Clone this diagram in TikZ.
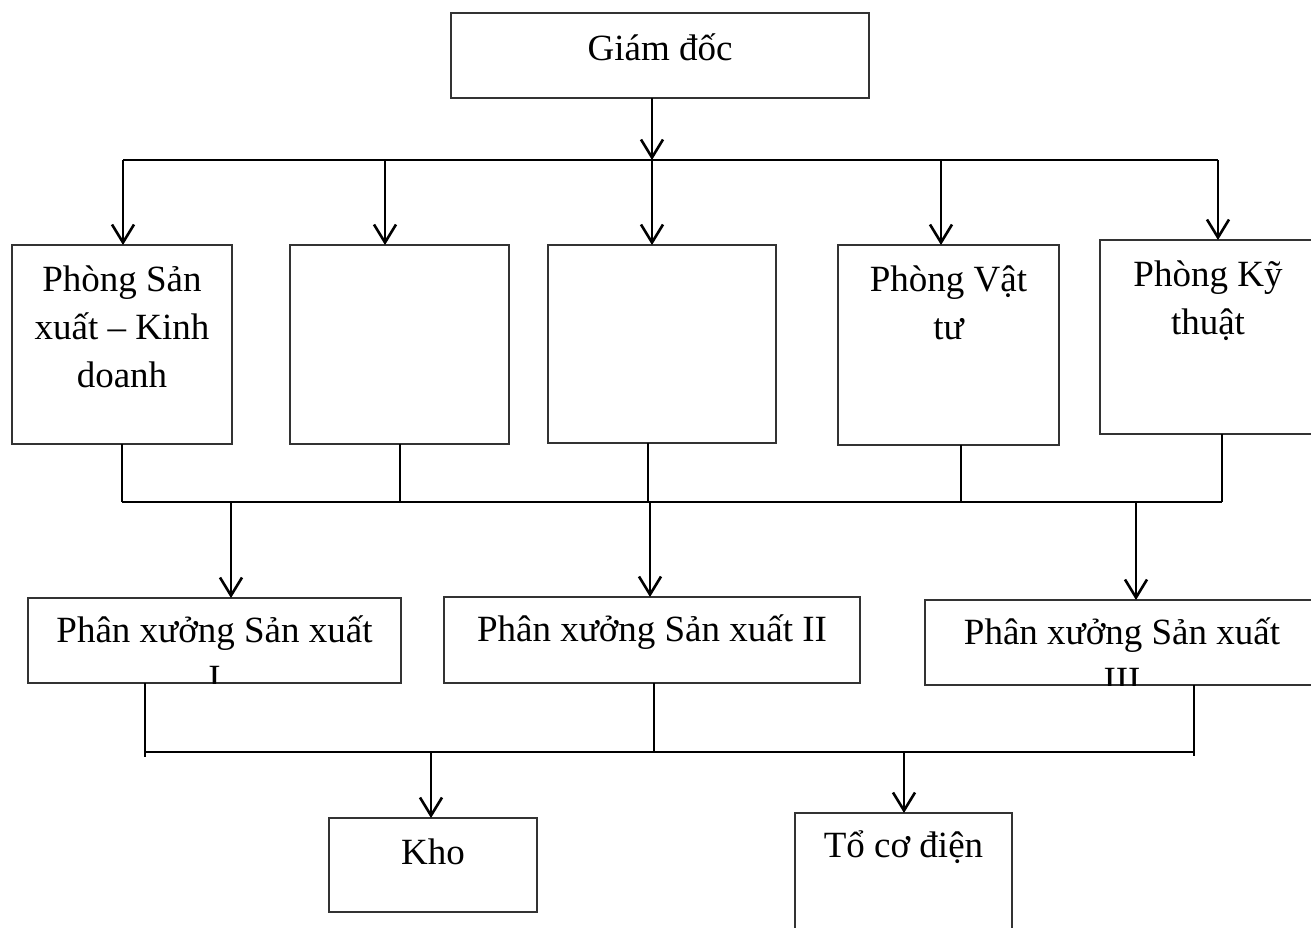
\documentclass[tikz,border=0pt]{standalone}
\usepackage{fontspec}
\setmainfont{Liberation Serif}
\usetikzlibrary{arrows.meta,fit,calc}
\begin{document}
\begin{tikzpicture}[x=0.5pt,y=-0.5pt,
  box/.style={draw=black!80, line width=0.75pt, inner sep=0pt, outer sep=0pt},
  lbl/.style={anchor=north, inner sep=0pt, align=center, font=\fontsize{18.5pt}{24pt}\selectfont},
  conn/.style={line width=1.3pt, black},
  arr/.style={conn, -{Straight Barb[length=9pt,width=11pt]}}
]
\useasboundingbox (0,0) rectangle (1311,927);
\clip (0,0) rectangle (1311,927);

% boxes
\node[box, fit={(451,13) (869,98)}] (gd) {};
\node[box, fit={(12,245) (232,444)}] (b1) {};
\node[box, fit={(290,245) (509,444)}] (b2) {};
\node[box, fit={(548,245) (776,443)}] (b3) {};
\node[box, fit={(838,245) (1059,445)}] (b4) {};
\node[box, fit={(1100,240) (1316,434)}] (b5) {};
\node[box, fit={(28,598) (401,683)}] (p1) {};
\node[box, fit={(444,597) (860,683)}] (p2) {};
\node[box, fit={(925,600) (1319,685)}] (p3) {};
\node[box, fit={(329,818) (537,912)}] (kho) {};
\node[box, fit={(795,813) (1012,960)}] (to) {};

% texts (first baseline about 46px below the box top)
\node[lbl] (gdt) at ($(gd.north)+(0,9)$) {\rule{0pt}{19pt}Giám đốc};
\node[lbl] (b1t) at ($(b1.north)+(0,8)$) {\rule{0pt}{19pt}Phòng Sản\\xuất – Kinh\\doanh};
\node[lbl] (b4t) at ($(b4.north)+(0,8)$) {\rule{0pt}{19pt}Phòng Vật\\tư};
\node[lbl] (b5t) at ($(b5.north)+(0,8)$) {\rule{0pt}{19pt}Phòng Kỹ\\thuật};
\begin{scope}
  \clip (p1.north west) rectangle (p1.south east);
  \node[lbl] (p1t) at ($(p1.north)+(0,6)$) {\rule{0pt}{19pt}Phân xưởng Sản xuất\\I};
\end{scope}
\node[lbl] (p2t) at ($(p2.north)+(0,6)$) {\rule{0pt}{19pt}Phân xưởng Sản xuất II};
\begin{scope}
  \clip (p3.north west) rectangle (p3.south east);
  \node[lbl] (p3t) at ($(p3.north)+(0,6)$) {\rule{0pt}{19pt}Phân xưởng Sản xuất\\III};
\end{scope}
\node[lbl] (khot) at ($(kho.north)+(0,8)$) {\rule{0pt}{19pt}Kho};
\node[lbl] (tot) at ($(to.north)+(0,6)$) {\rule{0pt}{19pt}Tổ cơ điện};

% level 1 bus
\coordinate (t0) at (652,160);
\coordinate (bus1L) at (123,160);
\coordinate (d2) at (385,160);
\coordinate (d4) at (941,160);
\coordinate (bus1R) at (1218,160);
\draw[arr] (gd.south -| t0) -- (t0);
\draw[conn] (bus1L) -- (bus1R);
\draw[arr] (bus1L) -- (b1.north -| bus1L);
\draw[arr] (d2) -- (b2.north -| d2);
\draw[arr] (t0) -- (b3.north -| t0);
\draw[arr] (d4) -- (b4.north -| d4);
\draw[arr] (bus1R) -- (b5.north -| bus1R);

% level 2 bus
\coordinate (u1) at (122,502);
\coordinate (u2) at (400,502);
\coordinate (u3) at (648,502);
\coordinate (u4) at (961,502);
\coordinate (u5) at (1222,502);
\draw[conn] (u1) -- (u5);
\draw[conn] (b1.south -| u1) -- (u1);
\draw[conn] (b2.south -| u2) -- (u2);
\draw[conn] (b3.south -| u3) -- (u3);
\draw[conn] (b4.south -| u4) -- (u4);
\draw[conn] (b5.south -| u5) -- (u5);
\coordinate (v1) at (231,502);
\coordinate (v2) at (650,502);
\coordinate (v3) at (1136,502);
\draw[arr] (v1) -- (p1.north -| v1);
\draw[arr] (v2) -- (p2.north -| v2);
\draw[arr] (v3) -- (p3.north -| v3);

% level 3 bus
\coordinate (w1) at (145,752);
\coordinate (w2) at (654,752);
\coordinate (w3) at (1194,752);
\draw[conn] (w1) -- (w3);
\draw[conn] (p1.south -| w1) -- ($(w1)+(0,5)$);
\draw[conn] (p2.south -| w2) -- (w2);
\draw[conn] (p3.south -| w3) -- ($(w3)+(0,4)$);
\coordinate (k) at (431,752);
\coordinate (t) at (904,752);
\draw[arr] (k) -- (kho.north -| k);
\draw[arr] (t) -- (to.north -| t);
\end{tikzpicture}
\end{document}
